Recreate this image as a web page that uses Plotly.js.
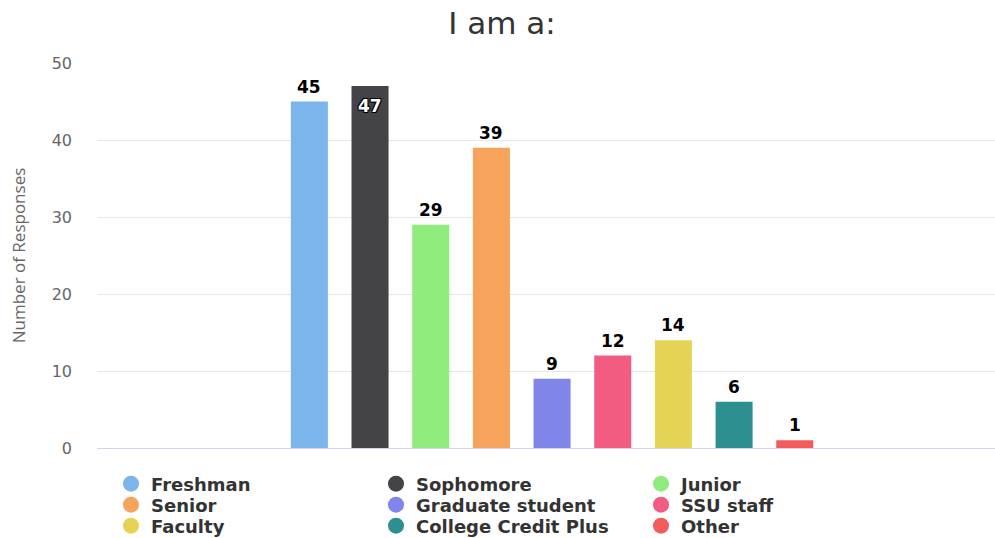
<!DOCTYPE html>
<html>
<head>
<meta charset="utf-8">
<script src="https://cdn.plot.ly/plotly-3.0.1.min.js"></script>
<style>html,body{margin:0;padding:0;background:#fff;}#chart{width:995px;height:538px;}</style>
</head>
<body>
<div id="chart"></div>
<script>
const categories = ["Freshman", "Sophomore", "Junior", "Senior", "Graduate student", "SSU staff", "Faculty", "College Credit Plus", "Other"];
const responses = [45, 47, 29, 39, 9, 12, 14, 6, 1];
const colors = ["#7cb5ec", "#434348", "#90ed7d", "#f7a35c", "#8085e9", "#f15c80", "#e4d354", "#2b908f", "#f45b5b"];
const yTicks = [0, 10, 20, 30, 40, 50];
const insideLabel = ["Sophomore"];
const legendRows = ["legend", "legend2", "legend3"];

const traces = [];
categories.forEach((name, i) => {
  traces.push({
    type: "bar",
    name: name,
    x: [name],
    y: [responses[i]],
    marker: {color: colors[i]},
    showlegend: false,
    legendgroup: name,
    hoverinfo: "name+y"
  });
});
// legend entries with circle symbols (points lie below the visible range)
categories.forEach((name, i) => {
  traces.push({
    type: "scatter",
    mode: "markers",
    name: name,
    x: [name],
    y: [-100],
    marker: {color: colors[i], size: 16, symbol: "circle"},
    legendgroup: name,
    legend: legendRows[Math.floor(i / 3)],
    showlegend: true,
    hoverinfo: "skip"
  });
});

const annotations = categories.map((name, i) => {
  const inside = insideLabel.includes(name);
  return {
    x: name,
    y: responses[i],
    xref: "x", yref: "y",
    text: String(responses[i]),
    showarrow: false,
    xanchor: "center",
    yanchor: inside ? "top" : "bottom",
    yshift: inside ? -8 : 3,
    font: inside
      ? {family: "DejaVu Sans", size: 17, color: "#ffffff", weight: "bold", shadow: "1px 1px 0 #000, -1px -1px 0 #000, 1px -1px 0 #000, -1px 1px 0 #000"}
      : {family: "DejaVu Sans", size: 17, color: "#000000", weight: "bold"}
  };
});

function legendRow(rowY) {
  return {
    orientation: "h",
    xref: "container", yref: "container",
    x: 111/995, y: 1 - rowY/538,
    xanchor: "left", yanchor: "middle",
    bgcolor: "rgba(0,0,0,0)",
    entrywidth: 220,
    entrywidthmode: "pixels",
    font: {family: "DejaVu Sans", size: 18, color: "#333333", weight: "bold"},
    itemclick: false, itemdoubleclick: false,
    tracegroupgap: 0
  };
}

const layout = {
  width: 995,
  height: 538,
  margin: {l: 97, r: 0, t: 63, b: 90},
  paper_bgcolor: "#ffffff",
  plot_bgcolor: "#ffffff",
  title: {
    text: "I am a:",
    font: {family: "DejaVu Sans", size: 31, color: "#333333"},
    x: 502/995, xref: "container", xanchor: "center",
    y: 1 - 23/538, yref: "container", yanchor: "middle"
  },
  barmode: "overlay",
  bargap: 0.39,
  xaxis: {
    type: "category",
    range: [-3.5, 11.3],
    showticklabels: false,
    showgrid: false,
    zeroline: false,
    showline: false,
    fixedrange: true
  },
  yaxis: {
    range: [0, 50],
    tickvals: yTicks,
    ticktext: yTicks.map(String),
    tickfont: {family: "DejaVu Sans", size: 16, color: "#666666"},
    ticklabelstandoff: 24,
    gridcolor: "#e6e6e6",
    gridwidth: 1,
    zeroline: true,
    zerolinecolor: "#ccd6eb",
    zerolinewidth: 1,
    showline: false,
    title: {
      text: "Number of Responses",
      font: {family: "Open Sans", size: 17, color: "#666666"},
      standoff: 21
    }
  },
  annotations: annotations,
  showlegend: true,
  legend: legendRow(484),
  legend2: legendRow(505),
  legend3: legendRow(526),
  hovermode: "closest"
};

Plotly.newPlot("chart", traces, layout, {displayModeBar: false, responsive: false});
</script>
</body>
</html>
